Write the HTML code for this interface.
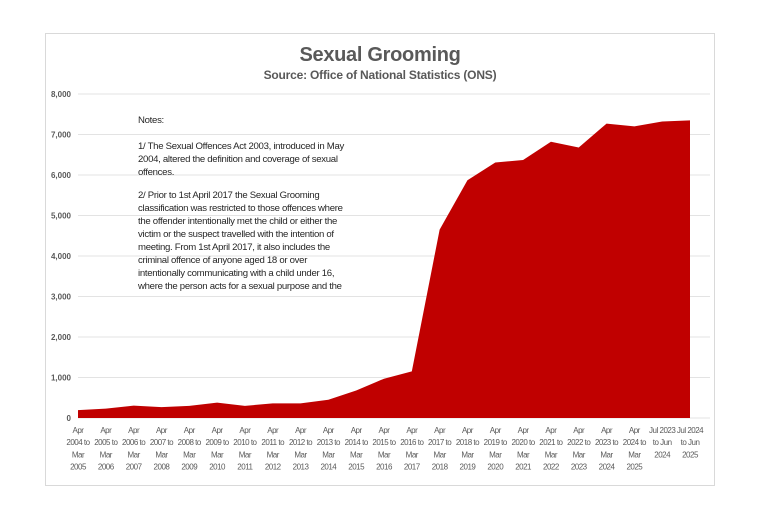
<!DOCTYPE html>
<html><head><meta charset="utf-8"><style>
body{margin:0;background:#fff;width:768px;height:512px;overflow:hidden;font-family:"Liberation Sans",sans-serif}
svg text{font-family:"Liberation Sans",sans-serif}
</style></head><body>
<svg id="chart" width="768" height="512">
<rect x="45.5" y="33.5" width="669" height="452" fill="#fff" stroke="#d9d9d9"/>
<text x="380" y="61" text-anchor="middle" font-size="20" font-weight="bold" fill="#595959" letter-spacing="-0.3">Sexual Grooming</text>
<text x="380" y="79" text-anchor="middle" font-size="12" font-weight="bold" fill="#595959" letter-spacing="-0.2">Source: Office of National Statistics (ONS)</text>
<g id="grid"></g><g id="area"></g><g id="xlabels"></g>
<g font-size="9.6" fill="#262626" letter-spacing="-0.3">
<text x="138" y="123">Notes:</text>
<text x="138" y="149">1/ The Sexual Offences Act 2003, introduced in May</text>
<text x="138" y="162">2004, altered the definition and coverage of sexual</text>
<text x="138" y="175">offences.</text>
<text x="138" y="198">2/ Prior to 1st April 2017 the Sexual Grooming</text>
<text x="138" y="211">classification was restricted to those offences where</text>
<text x="138" y="224">the offender intentionally met the child or either the</text>
<text x="138" y="237">victim or the suspect travelled with the intention of</text>
<text x="138" y="250">meeting. From 1st April 2017, it also includes the</text>
<text x="138" y="263">criminal offence of anyone aged 18 or over</text>
<text x="138" y="276">intentionally communicating with a child under 16,</text>
<text x="138" y="289">where the person acts for a sexual purpose and the</text>
</g>
</svg>
<script>
const categories=[["Apr","2004 to","Mar","2005"],["Apr","2005 to","Mar","2006"],["Apr","2006 to","Mar","2007"],["Apr","2007 to","Mar","2008"],["Apr","2008 to","Mar","2009"],["Apr","2009 to","Mar","2010"],["Apr","2010 to","Mar","2011"],["Apr","2011 to","Mar","2012"],["Apr","2012 to","Mar","2013"],["Apr","2013 to","Mar","2014"],["Apr","2014 to","Mar","2015"],["Apr","2015 to","Mar","2016"],["Apr","2016 to","Mar","2017"],["Apr","2017 to","Mar","2018"],["Apr","2018 to","Mar","2019"],["Apr","2019 to","Mar","2020"],["Apr","2020 to","Mar","2021"],["Apr","2021 to","Mar","2022"],["Apr","2022 to","Mar","2023"],["Apr","2023 to","Mar","2024"],["Apr","2024 to","Mar","2025"],["Jul 2023","to Jun","2024"],["Jul 2024","to Jun","2025"]];
const values=[195,230,305,270,300,380,300,360,360,450,680,970,1150,4650,5870,6310,6370,6820,6680,7270,7200,7320,7350];
const yTicks=[0,1000,2000,3000,4000,5000,6000,7000,8000];
const yTickLabels=["0","1,000","2,000","3,000","4,000","5,000","6,000","7,000","8,000"];
const NS="http://www.w3.org/2000/svg";
const x0=78,x1=690,yb=418,yt=94,yMax=8000;
const xs=i=>x0+i*(x1-x0)/(categories.length-1);
const ys=v=>yb-(v/yMax)*(yb-yt);
const grid=document.getElementById('grid');
yTicks.forEach((t,i)=>{
 const l=document.createElementNS(NS,'line');
 l.setAttribute('x1',78);l.setAttribute('x2',710);l.setAttribute('y1',ys(t));l.setAttribute('y2',ys(t));
 l.setAttribute('stroke','#e3e3e3');
 
 
 grid.appendChild(l);
 const tx=document.createElementNS(NS,'text');
 tx.setAttribute('x',71);tx.setAttribute('y',ys(t)+3);tx.setAttribute('text-anchor','end');
 tx.setAttribute('font-size','8');tx.setAttribute('font-weight','bold');tx.setAttribute('fill','#595959');
 tx.textContent=yTickLabels[i];
 
 
 grid.appendChild(tx);
});
let d='M'+xs(0)+','+yb;
values.forEach((v,i)=>{d+=' L'+xs(i)+','+ys(v);});
d+=' L'+xs(values.length-1)+','+yb+' Z';
const p=document.createElementNS(NS,'path');
p.setAttribute('d',d);p.setAttribute('fill','#c00000');


document.getElementById('area').appendChild(p);
const xl=document.getElementById('xlabels');
categories.forEach((c,i)=>{
 const t=document.createElementNS(NS,'text');
 t.setAttribute('text-anchor','middle');t.setAttribute('font-size','8');t.setAttribute('fill','#595959');
 t.setAttribute('letter-spacing','-0.5');
 
 
 c.forEach((s,j)=>{const ts=document.createElementNS(NS,'tspan');ts.setAttribute('x',xs(i));ts.setAttribute('y',433+j*12.2);ts.textContent=s;t.appendChild(ts);});
 xl.appendChild(t);
});
</script>
</body></html>
